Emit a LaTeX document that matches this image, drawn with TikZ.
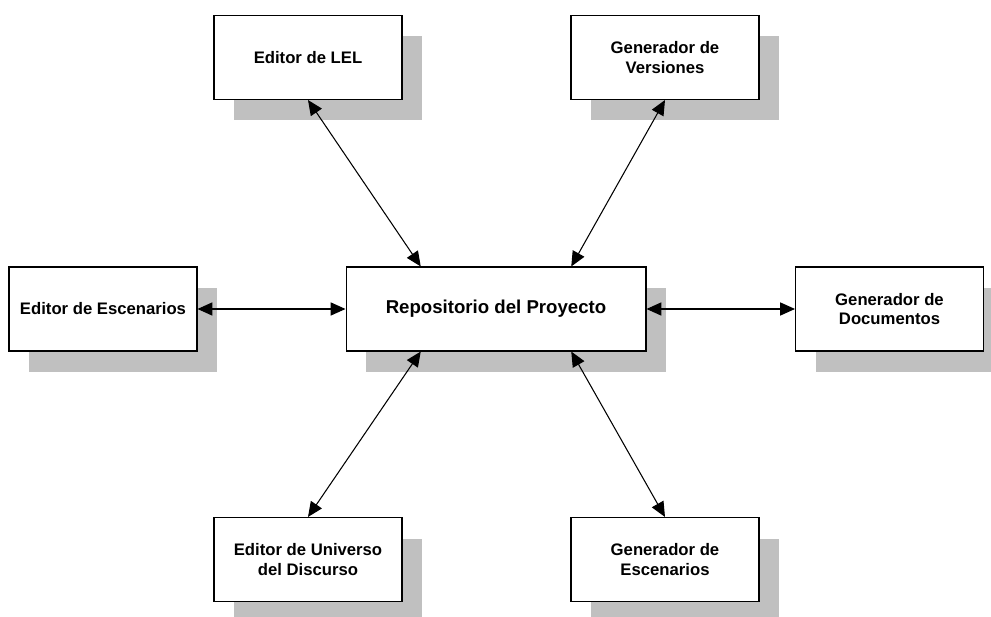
\documentclass[tikz,border=0pt]{standalone}
\usepackage{fontspec}
\setmainfont{Liberation Sans}
\usetikzlibrary{calc, arrows.meta, shadows}
\definecolor{shadowgray}{RGB}{192,192,192}
\begin{document}
\begin{tikzpicture}[x=.02cm, y=-.02cm, >={Triangle[length=8.5pt, width=7.5pt]},
  box/.style={draw, line width=.6pt, fill=white, minimum width=3.76cm,
    minimum height=1.68cm, align=center, inner sep=2pt,
    font=\bfseries\fontsize{9.5}{11}\selectfont,
    general shadow={fill=shadowgray, shadow xshift=.4cm, shadow yshift=-.42cm}},
  link/.style={<->, line width=.6pt}]
  \useasboundingbox (0,0) rectangle (991,617);
  \node[box] (lel) at (308,57.5) {Editor de LEL};
  \node[box] (ver) at (665,57.5) {Generador de\\Versiones};
  \node[box] (esc) at (103,309) {Editor de Escenarios};
  \node[box, minimum width=6cm, font=\bfseries\fontsize{10.6}{12}\selectfont] (repo) at (496,309) {Repositorio del Proyecto};
  \node[box] (doc) at (889.5,309) {Generador de\\Documentos};
  \node[box] (udd) at (308,559.5) {Editor de Universo\\del Discurso};
  \node[box] (gesc) at (665,559.5) {Generador de\\Escenarios};
  \draw[link] (lel.south) -- ($(repo.north west)!.25!(repo.north east)$);
  \draw[link] (ver.south) -- ($(repo.north west)!.75!(repo.north east)$);
  \draw[link] (esc.east) -- (repo.west);
  \draw[link] (repo.east) -- (doc.west);
  \draw[link] (udd.north) -- ($(repo.south west)!.25!(repo.south east)$);
  \draw[link] (gesc.north) -- ($(repo.south west)!.75!(repo.south east)$);
\end{tikzpicture}
\end{document}
